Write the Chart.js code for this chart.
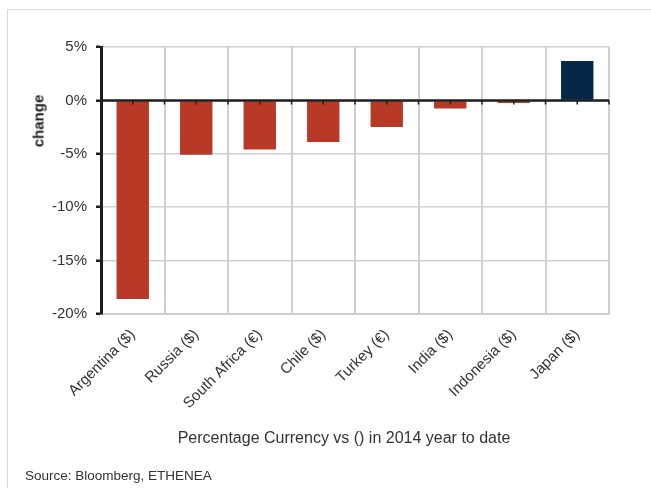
<!DOCTYPE html>
<html>
<head>
<meta charset="utf-8">
<script src="https://cdn.jsdelivr.net/npm/chart.js@4/dist/chart.umd.min.js"></script>
<style>
  html, body { margin: 0; padding: 0; background: #fff; }
  body { width: 651px; height: 488px; position: relative; overflow: hidden;
         font-family: "Liberation Sans", Arial, sans-serif; }
  .frame { position: absolute; left: 7px; top: 9px; width: 700px; height: 520px;
           border: 1.5px solid #d9d9d9; box-sizing: border-box; }
  #wrap { position: absolute; left: 0; top: 0; width: 651px; height: 488px; }
  .ytitle { position: absolute; left: 38px; top: 121px; transform: translate(-50%, -50%) rotate(-90deg);
            font-weight: bold; font-size: 15px; color: #222; white-space: nowrap; }
  .caption { position: absolute; left: 344px; top: 438px; transform: translate(-50%, -50%);
             font-size: 16px; color: #333; white-space: nowrap; }
  .source { position: absolute; left: 25px; top: 475px; transform: translateY(-50%);
            font-size: 13.5px; color: #333; white-space: nowrap; }
</style>
</head>
<body>
<div class="frame"></div>
<div id="wrap"><canvas id="chart" width="651" height="488"></canvas></div>
<div class="ytitle">change</div>
<div class="caption">Percentage Currency vs () in 2014 year to date</div>
<div class="source">Source: Bloomberg, ETHENEA</div>
<script>
// Currency moves against the reference currency, 2014 year to date (%)
const categories = ['Argentina ($)', 'Russia ($)', 'South Africa (€)', 'Chile ($)', 'Turkey (€)', 'India ($)', 'Indonesia ($)', 'Japan ($)'];
const changes = [-18.6, -5.1, -4.6, -3.9, -2.5, -0.75, -0.25, 3.7];
const yTicks = [5, 0, -5, -10, -15, -20];

const RED = '#b83a26';
const NAVY = '#052849';
const GRID = '#d0d0d0';
const AXIS = '#1e1e1e';

// Zero baseline with small tick marks at each category centre and boundary
const zeroAxis = {
  id: 'zeroAxis',
  afterDatasetsDraw(chart) {
    const { ctx, chartArea, scales } = chart;
    const y0 = scales.y.getPixelForValue(0);
    ctx.save();
    ctx.strokeStyle = AXIS;
    ctx.lineWidth = 2.5;
    ctx.beginPath();
    ctx.moveTo(chartArea.left, y0);
    ctx.lineTo(chartArea.right, y0);
    ctx.stroke();
    ctx.lineWidth = 1.5;
    const n = categories.length;
    const half = (scales.x.getPixelForValue(1) - scales.x.getPixelForValue(0)) / 2;
    ctx.beginPath();
    for (let i = 0; i < n; i++) {
      const xc = scales.x.getPixelForValue(i);
      [xc, xc + half].forEach(x => {
        ctx.moveTo(x, y0);
        ctx.lineTo(x, y0 + 4);
      });
    }
    ctx.stroke();
    ctx.restore();
  }
};

new Chart(document.getElementById('chart'), {
  type: 'bar',
  data: {
    labels: categories,
    datasets: [{
      data: changes,
      backgroundColor: changes.map(v => v >= 0 ? NAVY : RED),
      borderWidth: 0,
      barPercentage: 0.51,
      categoryPercentage: 1.0
    }]
  },
  options: {
    responsive: false,
    animation: false,
    layout: { padding: { top: 47, right: 42, bottom: 0, left: 0 } },
    plugins: { legend: { display: false }, tooltip: { enabled: false } },
    scales: {
      x: {
        offset: true,
        grid: { offset: true, color: GRID, lineWidth: 2, drawTicks: true, tickLength: 6, tickColor: 'rgba(0,0,0,0)' },
        border: { color: GRID, width: 2 },
        ticks: {
          autoSkip: false, maxRotation: 45, minRotation: 45, padding: 6,
          color: '#333', font: { family: 'Liberation Sans', size: 15 }
        },
        afterFit(scale) { scale.height = 174; }
      },
      y: {
        min: -20, max: 5,
        afterBuildTicks(scale) { scale.ticks = yTicks.map(v => ({ value: v })); },
        grid: {
          color: GRID, lineWidth: 1.5, tickColor: AXIS, tickLength: 5,
          tickWidth: 2.5
        },
        border: { color: AXIS, width: 3 },
        ticks: {
          padding: 9, color: '#333', font: { family: 'Liberation Sans', size: 15 },
          callback: v => v + '%'
        },
        afterFit(scale) { scale.width = 101; }
      }
    }
  },
  plugins: [zeroAxis]
});
</script>
</body>
</html>
